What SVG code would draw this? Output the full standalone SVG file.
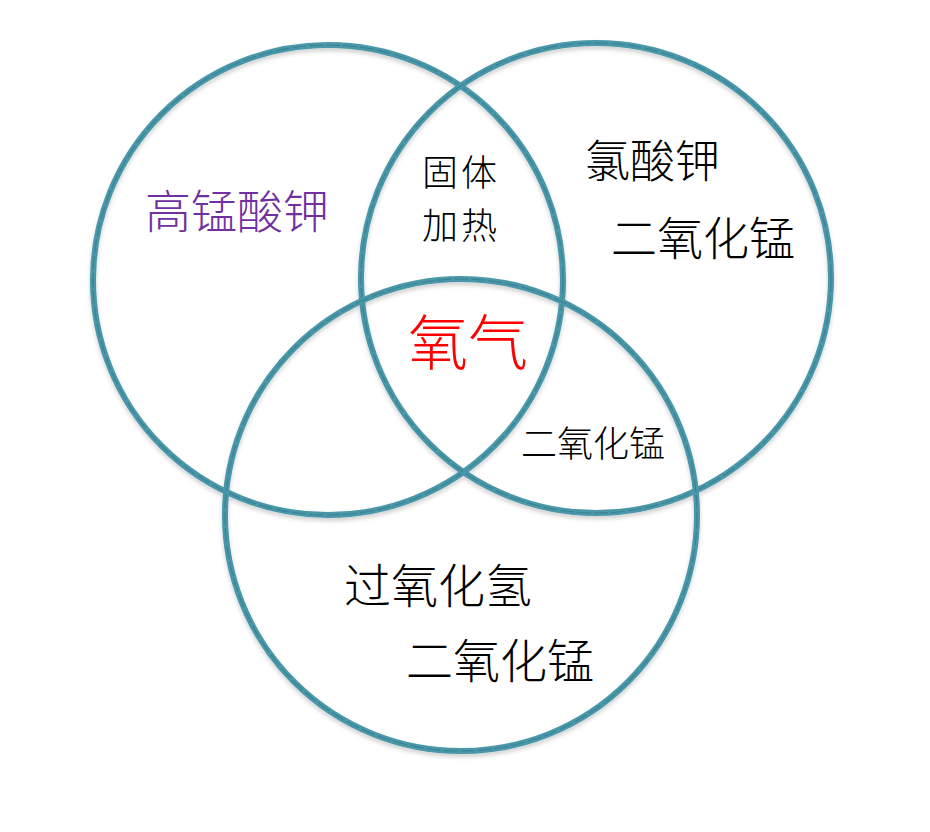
<svg xmlns="http://www.w3.org/2000/svg" width="930" height="832" viewBox="0 0 930 832">
  <defs>
    <filter id="shadow" x="-10%" y="-10%" width="120%" height="120%">
      <feDropShadow dx="0" dy="3" stdDeviation="2" flood-color="#000000" flood-opacity="0.18"/>
    </filter>
  </defs>
  <style>
    .ring { fill: none; stroke: #4897a8; stroke-width: 6; }
    .core { fill: none; stroke: #3a8393; stroke-width: 1.2; stroke-dasharray: 14 3; }
    text { font-family: "Noto Sans CJK SC", "Noto Sans CJK JP", sans-serif; font-weight: 300; }
    .lbl { fill: #000000; }
  </style>
  <rect width="930" height="832" fill="#ffffff"/>
  <g id="circles" filter="url(#shadow)">
    <g id="circle-kmno4">
      <circle class="ring" cx="328" cy="280" r="235"/>
      <circle class="core" cx="328" cy="280" r="235"/>
    </g>
    <g id="circle-kclo3">
      <circle class="ring" cx="596" cy="278" r="235"/>
      <circle class="core" cx="596" cy="278" r="235"/>
    </g>
    <g id="circle-h2o2">
      <circle class="ring" cx="461" cy="515" r="236"/>
      <circle class="core" cx="461" cy="515" r="236"/>
    </g>
  </g>
  <g id="labels">
    <g id="kmno4"><text x="145" y="228" font-size="46" fill="#7030a0">高锰酸钾</text></g>
    <g id="solid-heat">
      <text class="lbl" x="422" y="186" font-size="36" letter-spacing="3">固体</text>
      <text class="lbl" x="422" y="239" font-size="36" letter-spacing="3">加热</text>
    </g>
    <g id="kclo3">
      <text class="lbl" x="585" y="178" font-size="45">氯酸钾</text>
      <text class="lbl" x="611" y="255" font-size="46">二氧化锰</text>
    </g>
    <g id="oxygen"><text x="408" y="365" font-size="60" fill="#ff0000">氧气</text></g>
    <g id="mno2-mid"><text class="lbl" x="521" y="457" font-size="36">二氧化锰</text></g>
    <g id="h2o2">
      <text class="lbl" x="344" y="603" font-size="47">过氧化氢</text>
      <text class="lbl" x="406" y="678" font-size="47">二氧化锰</text>
    </g>
  </g>
</svg>
